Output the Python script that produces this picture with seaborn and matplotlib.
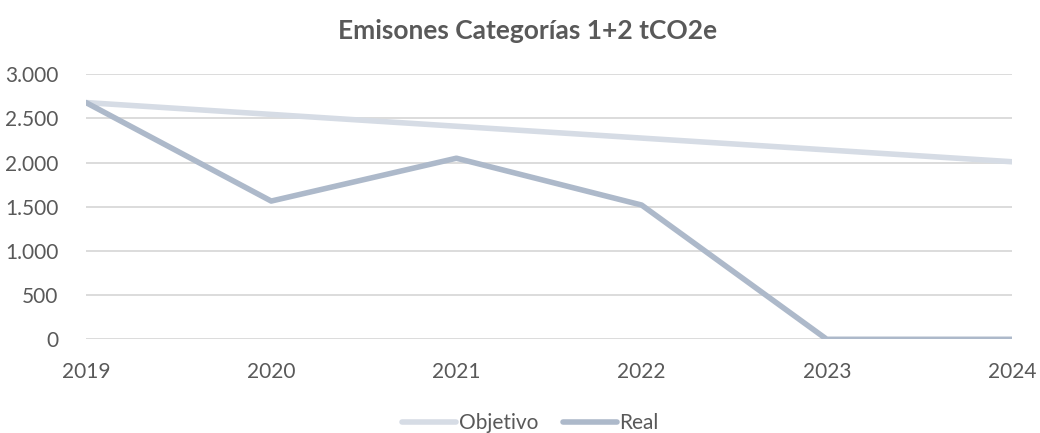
import pandas as pd
import matplotlib.pyplot as plt
import seaborn as sns
from matplotlib.ticker import FuncFormatter
from matplotlib.lines import Line2D

# datos
years = [2019, 2020, 2021, 2022, 2023, 2024]
objetivo = [2680, 2546, 2412, 2278, 2144, 2010]
real = [2680, 1565, 2050, 1520, 0, 0]

df = pd.DataFrame({
  'year': years * 2,
  'value': objetivo + real,
  'serie': ['Objetivo'] * len(years) + ['Real'] * len(years),
})

sns.set_style('white')
plt.rcParams['font.family'] = ['Lato', 'DejaVu Sans']
text_color = '#595959'
colors = {'Objetivo': '#D6DCE5', 'Real': '#ADB9CA'}

fig = plt.figure(figsize=(10.4, 4.33), dpi=100)
ax = fig.add_axes([86 / 1040, 93.7 / 433, 926 / 1040, 265 / 433])

sns.lineplot(data=df, x='year', y='value', hue='serie', palette=colors,
             linewidth=4, ax=ax, legend=False, zorder=3)

ax.set_xlim(2019, 2024)
ax.set_ylim(0, 3000)
ax.set_yticks(range(0, 3001, 500))
ax.set_xticks(years)
ax.yaxis.set_major_formatter(FuncFormatter(lambda v, p: f'{int(v):,}'.replace(',', '.')))
ax.grid(axis='y', color='#D9D9D9', linewidth=1.3, zorder=0)
ax.grid(axis='x', visible=False)
for s in ax.spines.values():
  s.set_visible(False)
ax.tick_params(axis='both', length=0, labelsize=15, colors=text_color)
ax.tick_params(axis='x', pad=16)
ax.tick_params(axis='y', pad=20)
ax.set_xlabel('')
ax.set_ylabel('')

fig.suptitle('Emisones Categorías 1+2 tCO2e', x=0.507, y=0.955,
             fontsize=19, fontweight='bold', color=text_color)

handles = [Line2D([], [], color=colors['Objetivo'], linewidth=4),
           Line2D([], [], color=colors['Real'], linewidth=4)]
fig.legend(handles, ['Objetivo', 'Real'], loc='center', bbox_to_anchor=(0.51, 0.022),
           ncol=2, frameon=False, fontsize=15, labelcolor=text_color,
           handlelength=2.6, handletextpad=0.1, columnspacing=1.2)

fig.savefig('out.png', dpi=100)
